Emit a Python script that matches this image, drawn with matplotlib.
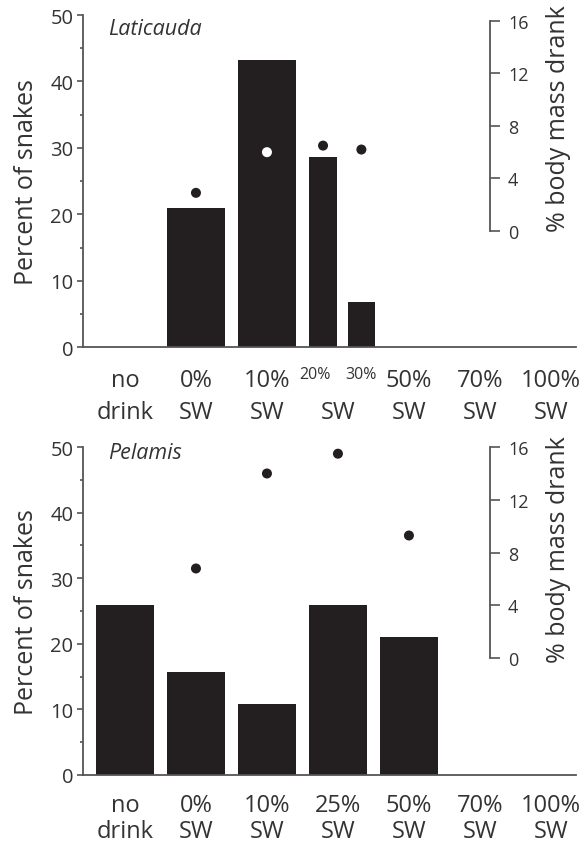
import numpy as np
import matplotlib.pyplot as plt
from matplotlib.ticker import MultipleLocator

plt.rcParams['font.family'] = ['Open Sans', 'DejaVu Sans']

# Laticauda: 20% and 30% SW share one slot on the axis
lat_groups = ["no drink", "0% SW", "10% SW", "20% SW", "30% SW", "50% SW", "70% SW", "100% SW"]
lat_slots = [0, 1, 2, 3, 3, 4, 5, 6]
lat_percent = [0, 21.0, 43.3, 28.7, 6.8, 0, 0, 0]
lat_drank = [np.nan, 2.9, 6.0, 6.5, 6.2, np.nan, np.nan, np.nan]

# Pelamis
pel_groups = ["no drink", "0% SW", "10% SW", "25% SW", "50% SW", "70% SW", "100% SW"]
pel_slots = [0, 1, 2, 3, 4, 5, 6]
pel_percent = [25.9, 15.7, 10.8, 25.9, 21.0, 0, 0]
pel_drank = [np.nan, 6.8, 14.0, 15.5, 9.3, np.nan, np.nan]

BAR = '#231f20'
AX = '#555555'
TXT = '#333333'
CAT_FS = 17


def bar_layout(slots):
    """Split slots that hold two groups into two narrow bars."""
    xs, ws = [], []
    for i, s in enumerate(slots):
        n = slots.count(s)
        if n == 1:
            xs.append(s)
            ws.append(0.81)
        else:
            k = [j for j, t in enumerate(slots) if t == s].index(i)
            xs.append(s + (-0.21 if k == 0 else 0.33))
            ws.append(0.39 if k == 0 else 0.37)
    return np.array(xs), np.array(ws)


def group_labels(ax, groups, slots, y1, y2, y_small):
    """Two-line category labels; shared slots get small first-line labels."""
    tr = ax.get_xaxis_transform()
    done = set()
    for i, g in enumerate(groups):
        top, bottom = g.split()[0], g.split()[1]
        s = slots[i]
        if slots.count(s) > 1:
            k = [j for j, t in enumerate(slots) if t == s].index(i)
            ax.text(s + (-0.33 if k == 0 else 0.33), y_small, top, transform=tr,
                    fontsize=11.5, color=TXT, ha='center', va='baseline')
            if s not in done:
                ax.text(s, y2, bottom, transform=tr, fontsize=CAT_FS, color=TXT,
                        ha='center', va='baseline')
                done.add(s)
        else:
            ax.text(s, y1, top, transform=tr, fontsize=CAT_FS, color=TXT,
                    ha='center', va='baseline')
            ax.text(s, y2, bottom, transform=tr, fontsize=CAT_FS, color=TXT,
                    ha='center', va='baseline')


def panel(ax, name, groups, slots, percent, drank, rlim, lines, white_idx=None, name_y=0.96):
    xs, ws = bar_layout(slots)
    ax.bar(xs, percent, width=ws, color=BAR, edgecolor='none', zorder=2)
    ax.set_xlim(-0.59, 6.35)
    ax.set_ylim(0, 50)
    ax.yaxis.set_major_locator(MultipleLocator(10))
    ax.yaxis.set_minor_locator(MultipleLocator(5))
    ax.tick_params(axis='y', which='major', length=4, width=1.2, color=AX,
                   labelsize=14.5, labelcolor=TXT, pad=3)
    ax.tick_params(axis='y', which='minor', length=2.5, width=1.2, color=AX)
    ax.set_xticks([])
    for side in ['top', 'right']:
        ax.spines[side].set_visible(False)
    for side in ['left', 'bottom']:
        ax.spines[side].set_color(AX)
        ax.spines[side].set_linewidth(1.3)
    ax.set_ylabel("Percent of snakes", fontsize=18, color=TXT)
    ax.yaxis.set_label_coords(-0.09, 0.5)
    ax.text(0.05, name_y, name, transform=ax.transAxes, fontsize=15.5,
            style='italic', color=TXT, va='center', ha='left')
    group_labels(ax, groups, slots, *lines)

    # second scale: % body mass drank
    ax2 = ax.twinx()
    ax2.set_ylim(*rlim)
    for side in ['top', 'left', 'bottom']:
        ax2.spines[side].set_visible(False)
    ax2.spines['right'].set_position(('axes', 0.826))
    ax2.spines['right'].set_bounds(0, 16)
    ax2.spines['right'].set_color(AX)
    ax2.spines['right'].set_linewidth(1.3)
    ax2.set_yticks([0, 4, 8, 12, 16])
    ax2.tick_params(axis='y', length=7, width=1.2, color=AX, labelsize=13,
                    labelcolor=TXT, pad=6)
    ax2.set_ylabel("% body mass drank", fontsize=18, color=TXT)
    ax2.yaxis.set_label_coords(0.94, 0.69)

    colors = ['white' if i == white_idx else BAR for i in range(len(drank))]
    ax2.scatter(xs, drank, s=52, c=colors, edgecolors='none', zorder=3)
    return ax2


fig = plt.figure(figsize=(5.81, 8.45), dpi=100)
ax_top = fig.add_axes([0.143, 0.588, 0.848, 0.393])
ax_bot = fig.add_axes([0.143, 0.0817, 0.848, 0.388])

panel(ax_top, "Laticauda", lat_groups, lat_slots, lat_percent, lat_drank,
      (-8.86, 16.45), (-0.1175, -0.214, -0.093), white_idx=2, name_y=0.96)
panel(ax_bot, "Pelamis", pel_groups, pel_slots, pel_percent, pel_drank,
      (-8.85, 16.0), (-0.11, -0.189, -0.09), name_y=0.985)

fig.savefig("out.png", dpi=100)
